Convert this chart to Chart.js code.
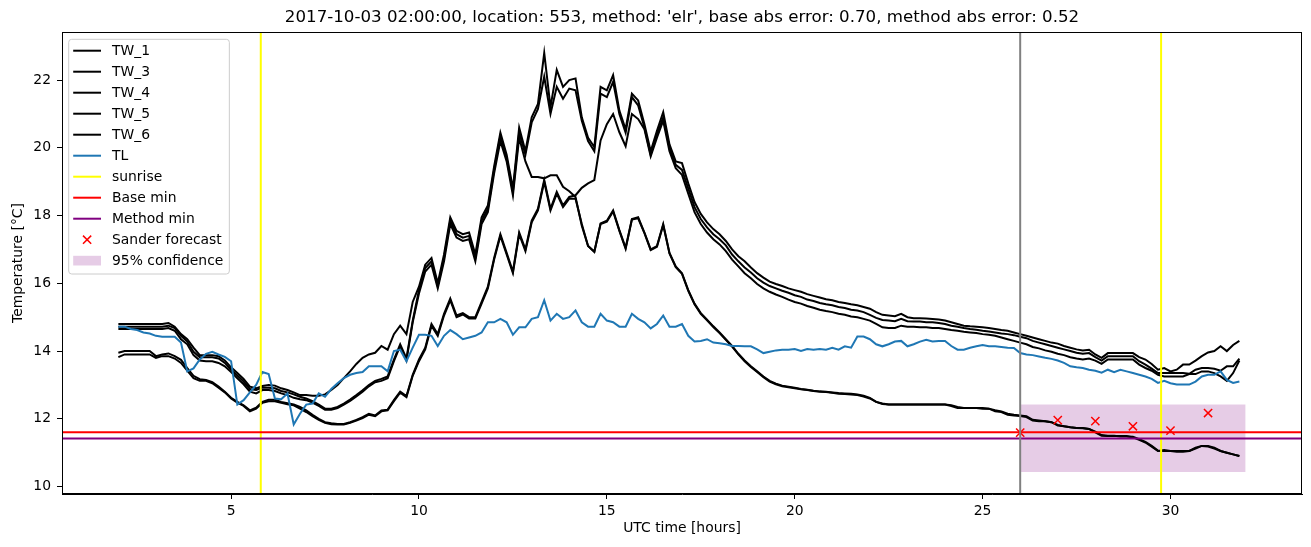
<!DOCTYPE html>
<html>
<head>
<meta charset="utf-8">
<script src="https://cdn.jsdelivr.net/npm/chart.js@4.4.0/dist/chart.umd.min.js"></script>
<style>
  html, body { margin: 0; padding: 0; background: #fff; }
</style>
</head>
<body>
<canvas id="tempChart" width="1311" height="547"></canvas>
<script>
// time axis: hours after midnight, 10 minute steps from 02:00
const hours = Array.from({ length: 180 }, (_, i) => 2 + i / 6);

// wire temperatures (one row = two hours)
const tw1 = [
  14.8, 14.8, 14.8, 14.8, 14.8, 14.8,   14.8, 14.8, 14.83, 14.72, 14.5, 14.35,
  14.1, 13.88, 13.88, 13.88, 13.85, 13.72,   13.52, 13.35, 13.18, 12.95, 12.9, 12.97,
  13.0, 12.98, 12.9, 12.85, 12.78, 12.7,   12.7, 12.68, 12.68, 12.72, 12.85, 13.0,
  13.2, 13.4, 13.62, 13.8, 13.9, 13.95,   14.15, 14.04, 14.5, 14.75, 14.5, 15.45,
  15.9, 16.55, 16.75, 16.0, 16.85, 17.95,   17.55, 17.45, 17.5, 16.85, 17.95, 18.3,
  19.45, 20.45, 19.8, 18.8, 20.6, 19.9,   20.9, 21.3, 22.8, 21.2, 22.3, 21.8,
  22.0, 22.05, 20.9, 20.3, 20.02, 21.8,   21.7, 22.15, 21.1, 20.55, 21.6, 21.4,
  20.7, 19.9, 20.5, 21.05, 20.1, 19.6,   19.55, 18.95, 18.4, 18.05, 17.8, 17.6,
  17.45, 17.25, 17.0, 16.8, 16.65, 16.47,   16.3, 16.17, 16.05, 15.98, 15.92, 15.85,
  15.8, 15.75, 15.68, 15.63, 15.58, 15.53,   15.5, 15.45, 15.42, 15.38, 15.35, 15.3,
  15.25, 15.15, 15.07, 15.05, 15.03, 15.1,   15.0, 14.97, 14.97, 14.96, 14.95, 14.93,
  14.9, 14.85, 14.8, 14.75, 14.73, 14.72,   14.7, 14.68, 14.65, 14.62, 14.6, 14.55,
  14.5, 14.45, 14.4, 14.35, 14.3, 14.25,   14.22, 14.15, 14.1, 14.05, 14.02, 14.04,
  13.9, 13.8, 13.94, 13.94, 13.94, 13.94,   13.94, 13.82, 13.75, 13.62, 13.45, 13.5,
  13.4, 13.45, 13.6, 13.6, 13.72, 13.85,   13.96, 14.0, 14.14, 14.0, 14.18, 14.3
];
const tw3 = [
  14.72, 14.72, 14.72, 14.72, 14.72, 14.72,   14.72, 14.72, 14.75, 14.68, 14.45, 14.28,
  13.98, 13.82, 13.82, 13.82, 13.78, 13.65,   13.45, 13.28, 13.1, 12.88, 12.85, 12.92,
  12.92, 12.9, 12.82, 12.78, 12.72, 12.65,   12.6, 12.52, 12.42, 12.3, 12.3, 12.35,
  12.45, 12.57, 12.7, 12.84, 13.0, 13.12,   13.18, 13.25, 13.75, 14.2, 13.78, 14.9,
  15.8, 16.45, 16.65, 15.92, 16.75, 17.85,   17.45, 17.35, 17.4, 16.75, 17.85, 18.2,
  19.35, 20.35, 19.7, 18.7, 20.45, 19.8,   20.75, 21.15, 22.1, 21.0, 21.8, 21.45,
  21.75, 21.7, 20.8, 20.2, 19.9, 21.6,   21.5, 21.95, 21.0, 20.45, 21.5, 21.25,
  20.6, 19.8, 20.4, 20.9, 20.0, 19.5,   19.35, 18.8, 18.25, 17.9, 17.65, 17.45,
  17.3, 17.12, 16.85, 16.65, 16.47, 16.32,   16.15, 16.02, 15.92, 15.85, 15.78, 15.72,
  15.65, 15.6, 15.52, 15.48, 15.42, 15.38,   15.35, 15.3, 15.27, 15.22, 15.2, 15.15,
  15.07, 14.98, 14.92, 14.9, 14.88, 14.95,   14.88, 14.87, 14.87, 14.85, 14.85, 14.83,
  14.8, 14.75, 14.72, 14.68, 14.65, 14.63,   14.6, 14.58, 14.55, 14.52, 14.5, 14.47,
  14.42, 14.38, 14.3, 14.25, 14.2, 14.15,   14.1, 14.05, 14.0, 13.95, 13.92, 13.94,
  13.82, 13.72, 13.85, 13.85, 13.85, 13.85,   13.85, 13.7, 13.6, 13.48, 13.35, 13.35,
  13.35, 13.35, 13.35, 13.33, 13.45, 13.5,   13.5, 13.48, 13.42, 13.55, 13.55, 13.78
];
const tw4 = [
  14.65, 14.65, 14.65, 14.65, 14.65, 14.65,   14.65, 14.65, 14.68, 14.6, 14.35, 14.2,
  13.88, 13.72, 13.7, 13.7, 13.65, 13.55,   13.38, 13.2, 13.02, 12.8, 12.75, 12.85,
  12.85, 12.82, 12.75, 12.7, 12.62, 12.58,   12.55, 12.48, 12.38, 12.27, 12.27, 12.32,
  12.42, 12.53, 12.66, 12.8, 12.96, 13.08,   13.12, 13.2, 13.7, 14.15, 13.72, 14.85,
  15.7, 16.35, 16.55, 15.85, 16.65, 17.75,   17.35, 17.25, 17.3, 16.65, 17.75, 18.1,
  19.25, 20.2, 19.6, 18.6, 20.3, 19.6,   19.14, 19.14, 19.1, 19.19, 19.19, 18.85,
  18.72, 18.55, 17.7, 17.1, 16.93, 17.77,   17.85, 18.15, 17.57, 17.05, 17.9, 17.95,
  17.5, 17.0, 17.1, 17.75, 16.9, 16.5,   16.3, 15.8, 15.4, 15.12, 14.93, 14.73,
  14.55, 14.35, 14.15, 13.92, 13.72, 13.55,   13.4, 13.25, 13.12, 13.04, 12.98, 12.95,
  12.92, 12.88, 12.86, 12.83, 12.81, 12.8,   12.78, 12.76, 12.75, 12.74, 12.72, 12.68,
  12.62, 12.5, 12.45, 12.42, 12.42, 12.42,   12.42, 12.42, 12.42, 12.42, 12.42, 12.42,
  12.42, 12.38, 12.32, 12.32, 12.32, 12.32,   12.3, 12.3, 12.22, 12.2, 12.12, 12.1,
  12.08, 12.05, 11.95, 11.93, 11.93, 11.9,   11.8, 11.78, 11.75, 11.73, 11.73, 11.7,
  11.6, 11.5, 11.49, 11.49, 11.49, 11.49,   11.45, 11.38, 11.3, 11.18, 11.05, 11.08,
  11.05, 11.05, 11.05, 11.05, 11.15, 11.2,   11.2, 11.15, 11.05, 11.0, 10.95, 10.9
];
const tw5 = [
  13.95, 14.0, 14.0, 14.0, 14.0, 14.0,   13.85, 13.9, 13.93, 13.85, 13.74, 13.5,
  13.27, 13.17, 13.15, 13.08, 12.95, 12.8,   12.62, 12.5, 12.4, 12.25, 12.33, 12.5,
  12.56, 12.56, 12.5, 12.46, 12.42, 12.35,   12.25, 12.12, 12.0, 11.9, 11.87, 11.85,
  11.85, 11.9, 11.97, 12.05, 12.15, 12.1,   12.25, 12.27, 12.55, 12.8, 12.67, 13.3,
  13.75, 14.1, 14.8, 14.5, 15.1, 15.55,   15.05, 15.12, 15.0, 15.0, 15.45, 15.9,
  16.75, 17.45, 16.9, 16.35, 17.5, 17.0,   17.85, 18.2, 19.05, 18.2, 18.7, 18.3,
  18.55, 18.6, 18.82, 18.95, 19.05, 20.22,   20.7, 21.0, 20.46, 20.05, 21.0, 20.85,
  20.55, 19.75, 20.3, 20.8, 19.9, 19.4,   19.2, 18.65, 18.1, 17.75, 17.5, 17.3,
  17.15, 16.95, 16.7, 16.5, 16.3, 16.15,   15.98, 15.85, 15.75, 15.67, 15.6, 15.52,
  15.45, 15.4, 15.33, 15.28, 15.22, 15.18,   15.15, 15.1, 15.07, 15.02, 15.0, 14.95,
  14.9, 14.8, 14.7, 14.68, 14.68, 14.75,   14.72, 14.72, 14.7, 14.7, 14.68, 14.68,
  14.65, 14.62, 14.6, 14.57, 14.55, 14.53,   14.5, 14.48, 14.45, 14.4, 14.35, 14.3,
  14.25, 14.2, 14.12, 14.08, 14.02, 13.98,   13.92, 13.88, 13.82, 13.78, 13.75, 13.78,
  13.72, 13.62, 13.75, 13.75, 13.75, 13.75,   13.75, 13.6, 13.5, 13.42, 13.3, 13.25,
  13.25, 13.25, 13.25, 13.32, 13.32, 13.4,   13.4, 13.35, 13.25, 13.12, 13.35, 13.72
];
const tw6 = [
  13.82, 13.9, 13.9, 13.9, 13.9, 13.9,   13.8, 13.85, 13.85, 13.78, 13.65, 13.42,
  13.2, 13.12, 13.12, 13.05, 12.92, 12.78,   12.6, 12.48, 12.38, 12.22, 12.3, 12.47,
  12.52, 12.52, 12.47, 12.43, 12.4, 12.3,   12.2, 12.08, 11.97, 11.88, 11.84, 11.83,
  11.83, 11.88, 11.95, 12.02, 12.12, 12.08,   12.22, 12.25, 12.52, 12.77, 12.64, 13.27,
  13.7, 14.05, 14.75, 14.45, 15.05, 15.5,   15.0, 15.08, 14.96, 14.96, 15.4, 15.85,
  16.7, 17.4, 16.85, 16.3, 17.45, 16.95,   17.8, 18.15, 19.0, 18.15, 18.65, 18.25,
  18.5, 18.5, 17.75, 17.1, 16.93, 17.75,   17.82, 18.12, 17.55, 17.02, 17.88, 17.92,
  17.48, 16.98, 17.08, 17.72, 16.88, 16.48,   16.28, 15.78, 15.38, 15.1, 14.91, 14.71,
  14.53, 14.33, 14.13, 13.9, 13.7, 13.53,   13.38, 13.23, 13.1, 13.02, 12.96, 12.93,
  12.9, 12.87, 12.85, 12.82, 12.8, 12.79,   12.77, 12.74, 12.73, 12.72, 12.7, 12.66,
  12.6, 12.5, 12.44, 12.42, 12.42, 12.42,   12.42, 12.42, 12.42, 12.42, 12.42, 12.42,
  12.42, 12.4, 12.35, 12.32, 12.32, 12.32,   12.32, 12.3, 12.25, 12.22, 12.15, 12.12,
  12.1, 12.08, 11.97, 11.95, 11.93, 11.9,   11.82, 11.78, 11.75, 11.73, 11.72, 11.7,
  11.62, 11.52, 11.5, 11.5, 11.48, 11.48,   11.47, 11.4, 11.32, 11.2, 11.06, 11.05,
  11.05, 11.03, 11.03, 11.05, 11.12, 11.2,   11.18, 11.12, 11.05, 11.0, 10.95, 10.9
];
// air temperature
const tl = [
  14.72, 14.72, 14.65, 14.62, 14.55, 14.52,   14.45, 14.42, 14.42, 14.42, 14.25, 13.4,
  13.49, 13.75, 13.92, 13.98, 13.9, 13.83,   13.7, 12.42, 12.55, 12.78, 13.0, 13.38,
  13.32, 12.6, 12.58, 12.75, 11.83, 12.15,   12.42, 12.45, 12.75, 12.65, 12.88, 13.05,
  13.2, 13.3, 13.35, 13.38, 13.55, 13.55,   13.55, 13.4, 14.0, 14.04, 13.7, 14.1,
  14.48, 14.48, 14.45, 14.15, 14.45, 14.62,   14.5, 14.35, 14.4, 14.45, 14.55, 14.85,
  14.85, 14.95, 14.85, 14.48, 14.7, 14.7,   14.95, 15.0, 15.5, 14.9, 15.1, 14.95,
  15.0, 15.2, 14.85, 14.72, 14.72, 15.1,   14.9, 14.85, 14.72, 14.72, 15.1, 14.95,
  14.85, 14.67, 14.8, 15.05, 14.72, 14.72,   14.8, 14.45, 14.28, 14.3, 14.35, 14.25,
  14.23, 14.2, 14.15, 14.15, 14.14, 14.14,   14.05, 13.94, 13.98, 14.02, 14.04, 14.04,
  14.06, 14.0, 14.06, 14.04, 14.06, 14.04,   14.1, 14.04, 14.14, 14.1, 14.43, 14.43,
  14.35, 14.2, 14.14, 14.2, 14.28, 14.3,   14.14, 14.2, 14.28, 14.33, 14.28, 14.3,
  14.3, 14.15, 14.04, 14.04, 14.1, 14.14,   14.18, 14.14, 14.14, 14.12, 14.1, 14.09,
  13.94, 13.9, 13.88, 13.84, 13.8, 13.77,   13.72, 13.65, 13.55, 13.52, 13.5, 13.45,
  13.42, 13.36, 13.45, 13.38, 13.45, 13.4,   13.35, 13.3, 13.25, 13.18, 13.06, 13.12,
  13.05, 13.01, 13.01, 13.01, 13.1, 13.25,   13.3, 13.3, 13.4, 13.15, 13.06, 13.1
];

const sunriseHours = [5.79, 29.75];
const forecastStart = 26;
const baseMin = 11.6;
const methodMin = 11.42;
const sanderHours = [26, 27, 28, 29, 30, 31];
const sanderTemps = [11.59, 11.96, 11.93, 11.78, 11.65, 12.17];
const confHours = [26, 32];
const confLow = 10.43;
const confHigh = 12.42;

const xRange = [0.5, 33.5];
const yRange = [9.78, 23.42];
const xTicks = [5, 10, 15, 20, 25, 30];
const yTicks = [10, 12, 14, 16, 18, 20, 22];

const titleText = "2017-10-03 02:00:00, location: 553, method: 'elr', base abs error: 0.70, method abs error: 0.52";

Chart.defaults.font.family = "'DejaVu Sans', sans-serif";
Chart.defaults.color = '#000';

function series(label, values, color) {
  return { label, data: values, borderColor: color, backgroundColor: color, borderWidth: 2, pointRadius: 0, tension: 0, fill: false };
}
function vline(x, color, label, inLegend) {
  return { label, inLegend, data: [{ x, y: yRange[0] }, { x, y: yRange[1] }], borderColor: color, borderWidth: 2, pointRadius: 0, fill: false };
}
function hline(y, color, label) {
  return { label, data: [{ x: xRange[0], y }, { x: xRange[1], y }], borderColor: color, borderWidth: 2, pointRadius: 0, fill: false };
}

const datasets = [
  series('TW_1', tw1, '#000000'),
  series('TW_3', tw3, '#000000'),
  series('TW_4', tw4, '#000000'),
  series('TW_5', tw5, '#000000'),
  series('TW_6', tw6, '#000000'),
  series('TL', tl, '#1f77b4'),
  vline(sunriseHours[0], '#ffff00', 'sunrise', true),
  vline(sunriseHours[1], '#ffff00', 'sunrise', false),
  hline(baseMin, '#ff0000', 'Base min'),
  hline(methodMin, '#800080', 'Method min'),
  {
    label: 'Sander forecast', marker: true,
    data: sanderHours.map((h, i) => ({ x: h, y: sanderTemps[i] })),
    showLine: false, pointStyle: 'crossRot', pointRadius: 5.8, pointBorderWidth: 1.5,
    borderColor: '#ff0000', backgroundColor: '#ff0000'
  },
  {
    label: '95% confidence', patch: true,
    data: confHours.map(h => ({ x: h, y: confHigh })),
    fill: { value: confLow }, backgroundColor: 'rgba(128,0,128,0.2)',
    borderWidth: 0, borderColor: 'rgba(0,0,0,0)', pointRadius: 0
  },
  vline(forecastStart, '#808080', 'forecast', false)
];
// later datasets on top, confidence band underneath everything
datasets.forEach((d, i) => { d.order = d.patch ? 1000 : 100 - i; });

// top and right spines
const frame = {
  id: 'frame',
  afterDatasetsDraw(chart) {
    const { ctx, chartArea: a } = chart;
    ctx.save();
    ctx.strokeStyle = '#000';
    ctx.lineWidth = 1;
    ctx.strokeRect(a.left + 0.5, a.top + 0.5, a.right - a.left - 1, a.bottom - a.top - 1);
    ctx.restore();
  }
};

// legend box in the upper left corner, like pyplot's
const boxLegend = {
  id: 'boxLegend',
  afterDraw(chart) {
    const { ctx, chartArea: a } = chart;
    const items = chart.data.datasets.filter(d => d.inLegend !== false && d.label !== 'forecast');
    const fs = 13.9;
    ctx.save();
    ctx.font = fs + "px 'DejaVu Sans'";
    const left = a.left + 6.7, top = a.top + 7.3;
    const textX = left + 43.3;
    const maxW = Math.max(...items.map(d => ctx.measureText(d.label).width));
    const w = textX - left + maxW + 6, h = items.length * 21 + 3.7;
    ctx.fillStyle = 'rgba(255,255,255,0.8)';
    ctx.strokeStyle = '#cccccc';
    ctx.lineWidth = 1;
    ctx.beginPath();
    ctx.roundRect(left, top, w, h, 3);
    ctx.fill();
    ctx.stroke();
    items.forEach((d, i) => {
      const y = top + 11.4 + i * 21;
      const x0 = left + 4.5, x1 = left + 32.3;
      if (d.patch) {
        ctx.fillStyle = d.backgroundColor;
        ctx.fillRect(x0, y - 4.9, x1 - x0, 9.7);
      } else if (d.marker) {
        const cx = (x0 + x1) / 2, r = 4.1;
        ctx.strokeStyle = d.borderColor;
        ctx.lineWidth = 1.5;
        ctx.beginPath();
        ctx.moveTo(cx - r, y - r); ctx.lineTo(cx + r, y + r);
        ctx.moveTo(cx - r, y + r); ctx.lineTo(cx + r, y - r);
        ctx.stroke();
      } else {
        ctx.strokeStyle = d.borderColor;
        ctx.lineWidth = 2;
        ctx.beginPath();
        ctx.moveTo(x0, y); ctx.lineTo(x1, y);
        ctx.stroke();
      }
      ctx.fillStyle = '#000';
      ctx.textBaseline = 'middle';
      ctx.textAlign = 'left';
      ctx.fillText(d.label, textX, y + 1);
    });
    ctx.restore();
  }
};

const ctx = document.getElementById('tempChart').getContext('2d');
const tempChart = new Chart(ctx, {
  type: 'line',
  data: { labels: hours, datasets },
  options: {
    responsive: false,
    animation: false,
    events: [],
    layout: { padding: { left: 0, right: 9, top: 0, bottom: 0 } },
    plugins: {
      legend: { display: false },
      tooltip: { enabled: false },
      title: {
        display: true, text: titleText, fullSize: false, color: '#000',
        font: { size: 16.67, weight: 'normal' }, padding: { top: 8, bottom: 4 }
      }
    },
    scales: {
      x: {
        type: 'linear', min: xRange[0], max: xRange[1],
        afterBuildTicks: s => { s.ticks = xTicks.map(v => ({ value: v })); },
        afterFit: s => { s.height = 53; },
        grid: { drawOnChartArea: false, tickLength: 5, color: '#000' },
        border: { color: '#000' },
        ticks: { color: '#000', font: { size: 13.9 }, padding: 4, maxRotation: 0, autoSkip: false, callback: v => String(v) },
        title: { display: true, text: 'UTC time [hours]', color: '#000', font: { size: 13.9 }, padding: { top: 0, bottom: 10 } }
      },
      y: {
        type: 'linear', min: yRange[0], max: yRange[1],
        afterBuildTicks: s => { s.ticks = yTicks.map(v => ({ value: v })); },
        afterFit: s => { s.width = 62; },
        grid: { drawOnChartArea: false, tickLength: 5, color: '#000' },
        border: { color: '#000' },
        ticks: { color: '#000', font: { size: 13.9 }, padding: 6, autoSkip: false, callback: v => String(v) },
        title: { display: true, text: 'Temperature [°C]', color: '#000', font: { size: 13.9 }, padding: { top: 10, bottom: 0 } }
      }
    }
  },
  plugins: [frame, boxLegend]
});
</script>
</body>
</html>
